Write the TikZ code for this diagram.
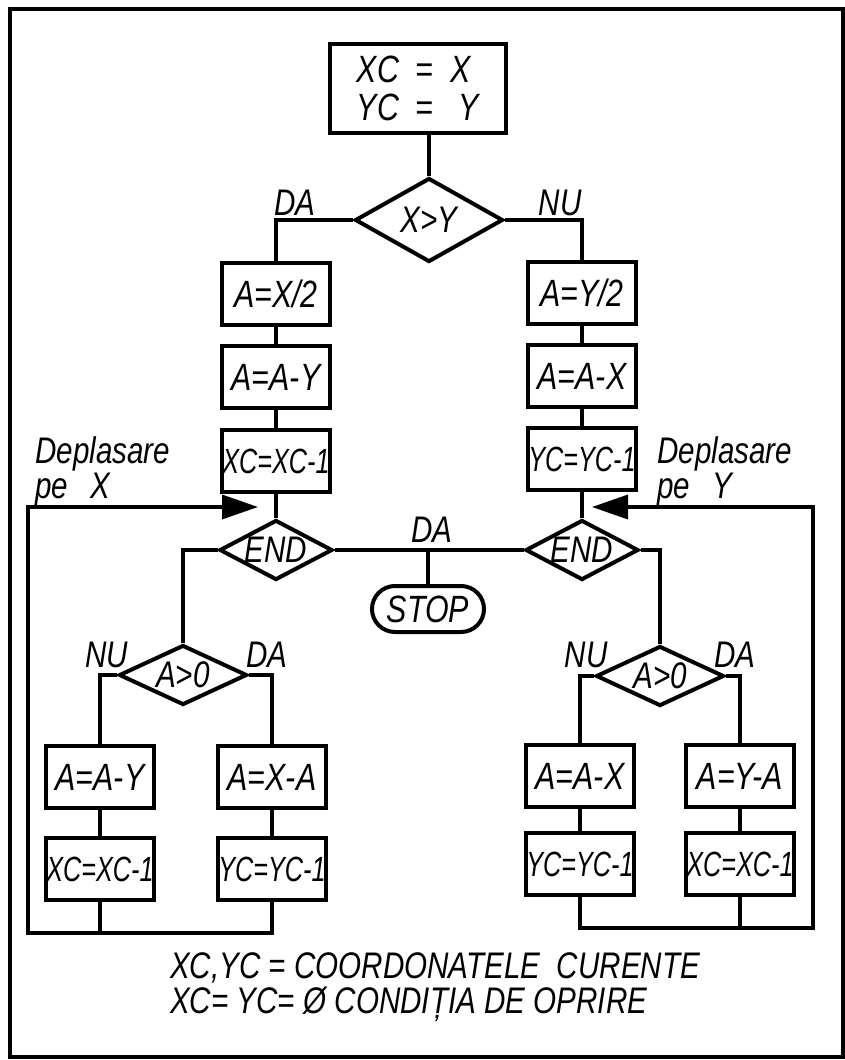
\documentclass[tikz,border=0pt]{standalone}
\usepackage{fontspec}
\newfontfamily\lettering{Liberation Sans}[FakeStretch=0.8]
\newfontfamily\letteringc{Liberation Sans}[FakeStretch=0.72]
\usetikzlibrary{arrows.meta,shapes.geometric,shapes.misc}
\tikzset{
  opblk/.style={draw,rectangle,line width=4pt,minimum width=108,minimum height=62,inner sep=0pt,font=\lettering\itshape\fontsize{38}{38}\selectfont},
  cntblk/.style={opblk,font=\letteringc\itshape\fontsize{35}{36}\selectfont},
  decblk/.style={draw,diamond,line width=4pt,inner sep=0pt,font=\lettering\itshape\fontsize{37}{37}\selectfont},
  endblk/.style={draw,rounded rectangle,line width=4pt,minimum width=112,minimum height=46,inner sep=0pt,font=\lettering\itshape\fontsize{38}{38}\selectfont},
  lbl/.style={font=\lettering\itshape\fontsize{37}{35}\selectfont,align=left,inner sep=0pt},
  ln/.style={line width=3.5pt},
  backarr/.style={ln,-{Triangle[length=36pt,width=24pt]}}
}
\begin{document}
\begin{tikzpicture}[x=1pt,y=-1pt]
  \useasboundingbox (0,0) rectangle (845,1060);
  \draw[line width=4pt] (10,9) rectangle (843,1057);

  % Start and first test
  \node[opblk,minimum width=176,minimum height=89,align=left] (init) at (418,88) {XC\ \ =\ \ X\\YC\ \ =\ \ \ Y};
  \node[decblk,minimum width=148,minimum height=84,aspect=1.76] (cmp) at (429,220) {X>Y};
  \node[lbl] (daT) at (295,203) {DA};
  \node[lbl] (nuT) at (560,203) {NU};

  % Left branch (X)
  \node[opblk] (axh) at (276,294) {A=X/2};
  \node[opblk] (aay) at (276,377) {A=A-Y};
  \node[cntblk] (xdec) at (276,461) {XC=XC-1};
  \node[decblk,minimum width=113,minimum height=60,aspect=1.88] (endl) at (276,550) {END};
  \node[lbl,anchor=north west] (depL) at (35,436) {Deplasare\\pe\hspace{22pt}X};

  % Right branch (Y)
  \node[opblk] (ayh) at (582,293) {A=Y/2};
  \node[opblk] (aax) at (582,376) {A=A-X};
  \node[cntblk] (ydec) at (582,459) {YC=YC-1};
  \node[decblk,minimum width=113,minimum height=60,aspect=1.88] (endr) at (582,550) {END};
  \node[lbl,anchor=north west] (depR) at (657,436) {Deplasare\\pe\hspace{22pt}Y};

  % Stop
  \node[endblk] (stop) at (428,609) {STOP};
  \node[lbl] (daS) at (432,530) {DA};

  % Lower left test
  \node[decblk,minimum width=128,minimum height=60,aspect=2.13] (posl) at (183,675) {A>0};
  \node[lbl] (nuL) at (107,655) {NU};
  \node[lbl] (daL) at (267,655) {DA};
  \node[opblk] (aayl) at (100,777) {A=A-Y};
  \node[cntblk] (xcl) at (100,869) {XC=XC-1};
  \node[opblk] (axa) at (272,777) {A=X-A};
  \node[cntblk] (ycl) at (272,869) {YC=YC-1};

  % Lower right test
  \node[decblk,minimum width=128,minimum height=60,aspect=2.13] (posr) at (660,676) {A>0};
  \node[lbl] (nuR) at (586,655) {NU};
  \node[lbl] (daR) at (735,655) {DA};
  \node[opblk] (aaxr) at (580,776) {A=A-X};
  \node[cntblk] (ycr) at (580,864) {YC=YC-1};
  \node[opblk] (aya) at (740,776) {A=Y-A};
  \node[cntblk] (xcr) at (740,864) {XC=XC-1};

  % Legend
  \node[lbl,anchor=west] (legend) at (170,987) {XC,YC = COORDONATELE\ \ CURENTE\\XC= YC= Ø CONDIȚIA DE OPRIRE};

  % Loop corners
  \coordinate (cornL) at (28,933);
  \coordinate (tipL) at (258,507);
  \coordinate (cornR) at (813,928);
  \coordinate (tipR) at (592,507);

  % Connections
  \draw[ln] (cmp.north |- init.south) -- (cmp.north);
  \draw[ln] (cmp.west) -| (axh.north);
  \draw[ln] (cmp.east) -| (ayh.north);
  \draw[ln] (axh) -- (aay);
  \draw[ln] (aay) -- (xdec);
  \draw[ln] (xdec) -- (endl);
  \draw[ln] (ayh) -- (aax);
  \draw[ln] (aax) -- (ydec);
  \draw[ln] (ydec) -- (endr);
  \draw[ln] (endl.east) -- (endr.west);
  \draw[ln] (stop.north |- endl.east) -- (stop.north);
  \draw[ln] (endl.west) -| (posl.north);
  \draw[ln] (endr.east) -| (posr.north);

  \draw[ln] (posl.west) -| (aayl.north);
  \draw[ln] (posl.east) -| (axa.north);
  \draw[ln] (aayl) -- (xcl);
  \draw[ln] (axa) -- (ycl);
  \draw[ln] (xcl.south) -- (xcl.south |- cornL);
  \draw[backarr] (ycl.south) |- (cornL) |- (tipL);

  \draw[ln] (posr.west) -| (aaxr.north);
  \draw[ln] (posr.east) -| (aya.north);
  \draw[ln] (aaxr) -- (ycr);
  \draw[ln] (aya) -- (xcr);
  \draw[ln] (xcr.south) -- (xcr.south |- cornR);
  \draw[backarr] (ycr.south) |- (cornR) |- (tipR);
\end{tikzpicture}
\end{document}
